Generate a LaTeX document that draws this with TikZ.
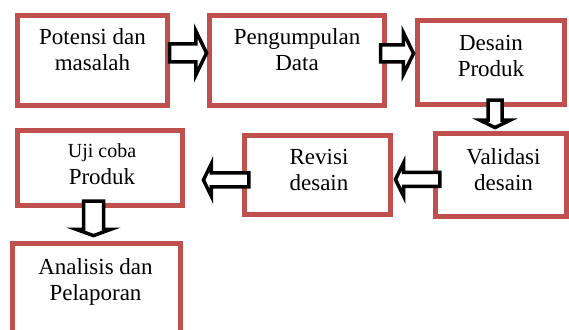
\documentclass[tikz,border=0pt]{standalone}
\usepackage{fontspec}
\setmainfont{Liberation Serif}
\usetikzlibrary{shapes.arrows}
\definecolor{boxred}{RGB}{192,80,77}
\tikzset{
  stage/.style={draw=boxred, line width=5pt, inner sep=0pt},
  stagetext/.style={font=\fontsize{23}{26}\selectfont, align=center, anchor=base, inner sep=0pt},
  flowarrow/.style={single arrow, draw=black, fill=white, line width=3.5pt, single arrow tip angle=128, anchor=tip}
}
\begin{document}
\begin{tikzpicture}[x=1pt, y=1pt]
\useasboundingbox (0,0) rectangle (569,329);
\clip (0,0) rectangle (569,329);
% Kotak tahapan
\node[stage, minimum width=150pt, minimum height=90pt] (potensi) at (92.5,268.5) {};
\node[stage, minimum width=175pt, minimum height=90pt] (pengumpulan) at (297,268.5) {};
\node[stage, minimum width=147pt, minimum height=84pt] (desain) at (491,266.5) {};
\node[stage, minimum width=131pt, minimum height=83pt] (validasi) at (501,154) {};
\node[stage, minimum width=146pt, minimum height=79pt] (revisi) at (317.5,154) {};
\node[stage, minimum width=165pt, minimum height=75pt] (ujicoba) at (100,161) {};
\node[stage, minimum width=168pt, minimum height=105.5pt] (analisis) at (96.5,32.75) {};
% Teks tiap tahap (anchor base = baris terakhir)
\node[stagetext] (tpotensi) at ([yshift=-57.5pt]potensi.north) {Potensi dan\\masalah};
\node[stagetext] (tpengumpulan) at ([yshift=-58pt]pengumpulan.north) {Pengumpulan\\Data};
\node[stagetext] (tdesain) at ([yshift=-59pt]desain.north) {Desain\\Produk};
\node[stagetext] (tvalidasi) at ([xshift=2.5pt, yshift=-59.5pt]validasi.north) {Validasi\\desain};
\node[stagetext] (trevisi) at ([xshift=1.5pt, yshift=-57.5pt]revisi.north) {Revisi\\desain};
\node[stagetext, font=\fontsize{20}{27}\selectfont] (tujicoba) at ([xshift=2pt, yshift=-56.5pt]ujicoba.north) {Uji coba\\\fontsize{23}{27}\selectfont Produk};
\node[stagetext] (tanalisis) at ([xshift=-1pt, yshift=-59.5pt]analisis.north) {Analisis dan\\Pelaporan};
% Panah blok
\node[flowarrow, minimum height=37pt, inner sep=7.25pt, single arrow head extend=13pt] (a1) at ([xshift=1.5pt, yshift=7.5pt]pengumpulan.west) {};
\node[flowarrow, minimum height=33pt, inner sep=6.75pt, single arrow head extend=12.5pt] (a2) at ([xshift=0.5pt, yshift=9pt]desain.west) {};
\node[flowarrow, shape border rotate=270, minimum height=27.5pt, inner sep=5.25pt, single arrow head extend=8pt] (a3) at ([xshift=-6pt, yshift=1.5pt]validasi.north) {};
\node[flowarrow, shape border rotate=180, minimum height=44.5pt, inner sep=5.25pt, single arrow head extend=9.5pt] (a4) at ([xshift=0.5pt, yshift=-4.5pt]revisi.east) {};
\node[flowarrow, shape border rotate=180, minimum height=45.5pt, inner sep=5.25pt, single arrow head extend=9pt] (a5) at ([xshift=16.5pt, yshift=-12pt]ujicoba.east) {};
\node[flowarrow, shape border rotate=270, single arrow tip angle=140, minimum height=34.5pt, inner sep=8.25pt, single arrow head extend=7pt] (a6) at ([xshift=-3pt, yshift=3.5pt]analisis.north) {};
\end{tikzpicture}
\end{document}
